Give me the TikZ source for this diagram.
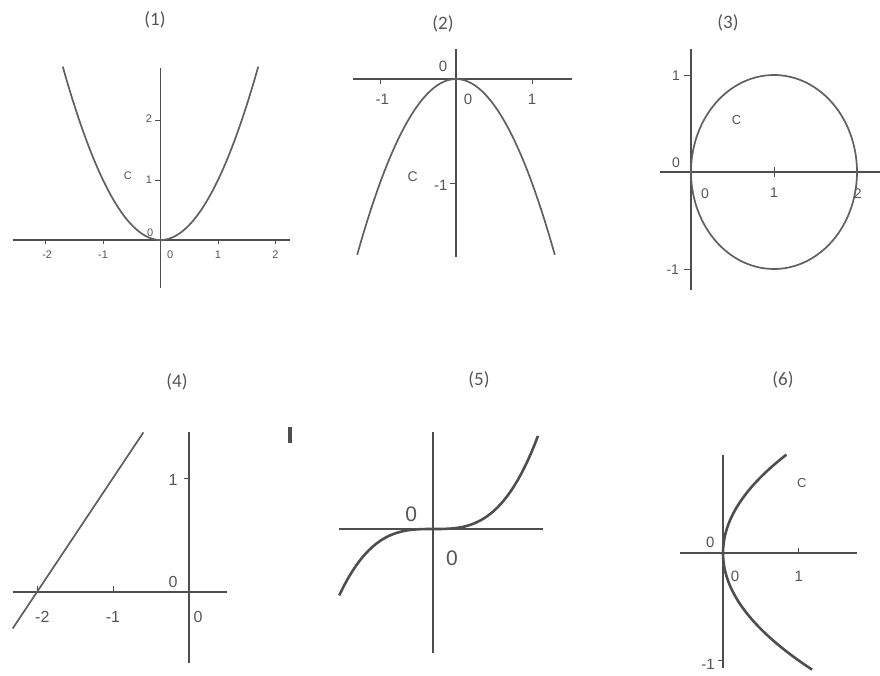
\documentclass[tikz,border=0pt]{standalone}
\usepackage{fontspec}
\setmainfont{Liberation Sans}
\newfontfamily\titlefont{Carlito}
\definecolor{ink}{HTML}{4E4E4E}
\definecolor{txt}{HTML}{555555}

\begin{document}
\begin{tikzpicture}[x=1pt,y=-1pt,
  axis/.style={draw=ink,line width=1.4pt},
  graph/.style={draw=ink!90,line width=1.7pt},
  heavy/.style={draw=ink,line width=2.6pt},
  tick/.style={draw=ink,line width=1pt},
  title/.style={text=txt,font=\titlefont\fontsize{19}{19}\selectfont},
  num/.style={text=txt,inner sep=0pt,font=\fontsize{#1}{#1}\selectfont},
  num/.default=15]

  \useasboundingbox (0,0) rectangle (880,675);

  \node[title] (A) at (155,20) {(1)};
  \node[title] (B) at (443,24) {(2)};
  \node[title] (C) at (728,23) {(3)};
  \node[title] (D) at (177,382) {(4)};
  \node[title] (E) at (479,380) {(5)};
  \node[title] (F) at (783,380) {(6)};

  \begin{scope}[shift={(160.5,240)},x=57.5pt,y=60pt]
    \draw[axis] (-2.57,0) -- (2.25,0);
    \draw[axis] (0,-0.8) -- (0,2.87);
    \foreach \t in {-2,-1,1,2} \draw[tick] (\t,0) -- (\t,-0.07);
    \foreach \t in {1,2} \draw[tick] (0,\t) -- (-0.1,\t);
    \draw[graph] plot[domain=-1.7:1.7,samples=60] (\x,{\x*\x});
    \node[num=11] (Aa) at (-1.97,-0.25) {-2};
    \node[num=11] (Ab) at (-1,-0.25) {-1};
    \node[num=11] (Ac) at (0.17,-0.25) {0};
    \node[num=11] (Ad) at (1,-0.25) {1};
    \node[num=11] (Ae) at (2,-0.25) {2};
    \node[num=11] (Af) at (-0.2,1) {1};
    \node[num=11] (Ag) at (-0.2,2.02) {2};
    \node[num=11] (Ah) at (-0.18,0.12) {0};
    \node[num=11] (Ai) at (-0.57,1.07) {C};
  \end{scope}

  \begin{scope}[shift={(456,79)},x=76pt,y=104pt]
    \draw[axis] (-1.36,0) -- (1.53,0);
    \draw[axis] (0,0.29) -- (0,-1.71);
    \foreach \t in {-1,1} \draw[tick] (\t,0) -- (\t,-0.05);
    \draw[tick] (0,-1) -- (-0.08,-1);
    \draw[graph] plot[domain=-1.3:1.3,samples=60] (\x,{-\x*\x});
    \node[num] (Ba) at (-0.17,0.12) {0};
    \node[num] (Bb) at (-0.97,-0.2) {-1};
    \node[num] (Bc) at (0.16,-0.2) {0};
    \node[num] (Bd) at (1,-0.2) {1};
    \node[num] (Be) at (-0.2,-1.02) {-1};
    \node[num=14] (Bf) at (-0.57,-0.94) {C};
  \end{scope}

  \begin{scope}[shift={(691,172)},x=83pt,y=97pt]
    \draw[axis] (-0.37,0) -- (2.3,0);
    \draw[axis] (0,1.27) -- (0,-1.22);
    \foreach \t in {1,2} \draw[tick] (\t,0.05) -- (\t,-0.05);
    \foreach \t in {-1,1} \draw[tick] (0,\t) -- (-0.08,\t);
    \draw[graph] plot[domain=0:360,samples=120] ({1+cos(\x)},{sin(\x)});
    \node[num=14] (Ca) at (-0.18,0.99) {1};
    \node[num=14] (Cb) at (-0.22,-1.01) {-1};
    \node[num=14] (Cc) at (-0.18,0.1) {0};
    \node[num=14] (Cd) at (0.17,-0.22) {0};
    \node[num=14] (Ce) at (1,-0.21) {1};
    \node[num=14] (Cf) at (2.01,-0.22) {2};
    \node[num=13] (Cg) at (0.55,0.54) {C};
  \end{scope}

  \begin{scope}[shift={(189,592)},x=76pt,y=114pt]
    \draw[axis] (-2.32,0) -- (0.5,0);
    \draw[axis] (0,1.4) -- (0,-0.62);
    \foreach \t in {-2,-1} \draw[tick] (\t,0) -- (\t,0.05);
    \draw[tick] (0,1) -- (-0.07,1);
    \draw[graph] (-2.32,-0.32) -- (-0.6,1.4);
    \node[num=16] (Da) at (-0.21,0.98) {1};
    \node[num=16] (Db) at (-0.21,0.09) {0};
    \node[num=16] (Dc) at (-1.93,-0.22) {-2};
    \node[num=16] (Dd) at (-1,-0.22) {-1};
    \node[num=16] (De) at (0.12,-0.22) {0};
  \end{scope}
  \draw[draw=ink,line width=4pt] (290,427) -- (290,443);

  \begin{scope}[shift={(433,529)},x=70pt,y=27.6pt]
    \draw[axis] (-1.34,0) -- (1.57,0);
    \draw[axis] (0,3.5) -- (0,-4.5);
    \draw[heavy] plot[domain=-1.34:1.5,samples=60] (\x,{\x*\x*\x});
    \node[num=21] (Ea) at (-0.31,0.54) {0};
    \node[num=21] (Eb) at (0.27,-1.05) {0};
  \end{scope}

  \begin{scope}[shift={(723,553)},x=75pt,y=107pt]
    \draw[axis] (-0.57,0) -- (1.79,0);
    \draw[axis] (0,0.92) -- (0,-1.07);
    \draw[tick] (1,0) -- (1,0.05);
    \draw[tick] (0,-1) -- (-0.07,-1);
    \draw[heavy] plot[domain=-1.09:0.92,samples=60] ({\x*\x},\x);
    \node[num=13] (Fa) at (1.05,0.65) {C};
    \node[num] (Fb) at (-0.17,0.1) {0};
    \node[num] (Fc) at (0.16,-0.22) {0};
    \node[num] (Fd) at (1.01,-0.22) {1};
    \node[num] (Fe) at (-0.2,-1.04) {-1};
  \end{scope}

\end{tikzpicture}
\end{document}
